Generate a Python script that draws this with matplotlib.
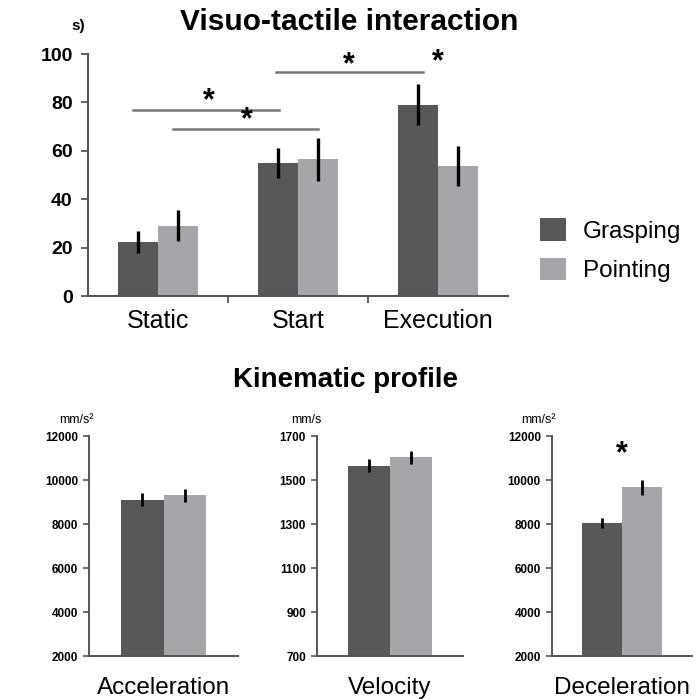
import matplotlib
matplotlib.use("Agg")
import matplotlib.pyplot as plt
import numpy as np

plt.rcParams['font.family'] = ['Liberation Sans', 'DejaVu Sans']

# top panel data (visuo-tactile interaction)
phases = ['Static', 'Start', 'Execution']
grasp_top = [22.3, 55.0, 79.0]
grasp_top_err = [4.5, 6.2, 8.5]
point_top = [29.0, 56.5, 53.7]
point_top_err = [6.4, 9.0, 8.3]

# bottom panels data (kinematic profile)
kin_names = ['Acceleration', 'Velocity', 'Deceleration']
kin_units = ['mm/s\u00b2', 'mm/s', 'mm/s\u00b2']
kin_grasp = [9110, 1565, 8060]
kin_grasp_err = [280, 30, 230]
kin_point = [9300, 1603, 9670]
kin_point_err = [290, 29, 340]
kin_ylims = [(2000, 12000), (700, 1700), (2000, 12000)]
kin_yticks = [[2000, 4000, 6000, 8000, 10000, 12000],
              [700, 900, 1100, 1300, 1500, 1700],
              [2000, 4000, 6000, 8000, 10000, 12000]]

dark = '#58585a'
light = '#a5a6aa'
spine_c = '#555555'
w = 0.286

fig = plt.figure(figsize=(6.96, 6.99), dpi=100)

# ---- top panel ----
ax = fig.add_axes([0.1264, 0.5765, 0.604, 0.3462])
x = np.arange(len(phases))
ax.bar(x - w/2, grasp_top, w, color=dark, label='Grasping')
ax.bar(x + w/2, point_top, w, color=light, label='Pointing')
ax.errorbar(x - w/2, grasp_top, yerr=grasp_top_err, fmt='none', ecolor='black', elinewidth=2.4, capsize=0)
ax.errorbar(x + w/2, point_top, yerr=point_top_err, fmt='none', ecolor='black', elinewidth=2.4, capsize=0)
ax.set_xlim(-0.5, 2.5)
ax.set_ylim(0, 100)
ax.set_yticks([0, 20, 40, 60, 80, 100])
ax.tick_params(axis='y', labelsize=14, length=5, width=1.3, color=spine_c, pad=6)
for t in ax.get_yticklabels():
    t.set_fontweight('bold')
ax.set_xticks([0.5, 1.5])
ax.set_xticklabels([])
ax.set_xticks(x, minor=True)
ax.set_xticklabels(phases, minor=True, fontsize=18)
ax.tick_params(axis='x', which='major', length=5, width=1.3, color=spine_c)
ax.tick_params(axis='x', which='minor', length=0, pad=9)
for s in ['top', 'right']:
    ax.spines[s].set_visible(False)
for s in ['left', 'bottom']:
    ax.spines[s].set_color(spine_c)
    ax.spines[s].set_linewidth(1.5)

# significance lines
sig_lines = [(-0.18, 0.86, 77), (0.11, 1.14, 69), (0.84, 1.89, 92.5)]
for x0, x1, yy in sig_lines:
    ax.plot([x0, x1], [yy, yy], color='#777777', lw=1.8, clip_on=False)
stars = [(0.36, 80.5), (0.63, 72.5), (1.36, 95.5), (2.0, 96.5)]
for sx, sy in stars:
    ax.text(sx, sy, '*', ha='center', va='center', fontsize=22, fontweight='bold', clip_on=False)

ax.text(-0.62, 111.5, 's)', ha='left', va='center', fontsize=11, fontweight='bold', transform=ax.transData)
fig.text(0.502, 0.969, 'Visuo-tactile interaction', ha='center', va='center',
         fontsize=21.5, fontweight='bold')

fig.legend(loc='center left', bbox_to_anchor=(0.745, 0.642), frameon=False,
           fontsize=17.5, handlelength=1.05, handleheight=1.05, labelspacing=0.6, handletextpad=0.7)

# ---- bottom panels ----
fig.text(0.497, 0.456, 'Kinematic profile', ha='center', va='center',
         fontsize=20, fontweight='bold')

positions = [[0.128, 0.0615, 0.214, 0.3147],
             [0.4555, 0.0615, 0.21, 0.3147],
             [0.793, 0.0615, 0.201, 0.3147]]
for i in range(3):
    a = fig.add_axes(positions[i])
    a.bar(-w/2, kin_grasp[i], w, color=dark, bottom=0)
    a.bar(w/2, kin_point[i], w, color=light, bottom=0)
    a.errorbar([-w/2], [kin_grasp[i]], yerr=[kin_grasp_err[i]], fmt='none', ecolor='black', elinewidth=2.0, capsize=0)
    a.errorbar([w/2], [kin_point[i]], yerr=[kin_point_err[i]], fmt='none', ecolor='black', elinewidth=2.0, capsize=0)
    a.set_xlim(-0.5, 0.5)
    a.set_ylim(*kin_ylims[i])
    a.set_yticks(kin_yticks[i])
    a.tick_params(axis='y', labelsize=8.5, length=4, width=1.2, color=spine_c, pad=4)
    for t in a.get_yticklabels():
        t.set_fontweight('bold')
    a.set_xticks([0])
    a.set_xticklabels([kin_names[i]], fontsize=17.5)
    a.tick_params(axis='x', length=0, pad=15)
    for s in ['top', 'right']:
        a.spines[s].set_visible(False)
    for s in ['left', 'bottom']:
        a.spines[s].set_color(spine_c)
        a.spines[s].set_linewidth(1.4)
    a.text(0.03, 1.045, kin_units[i], transform=a.transAxes, ha='right', va='bottom', fontsize=9)
    if i == 2:
        a.text(0.0, 11150, '*', ha='center', va='center', fontsize=22, fontweight='bold')

fig.savefig('out.png', dpi=100)
